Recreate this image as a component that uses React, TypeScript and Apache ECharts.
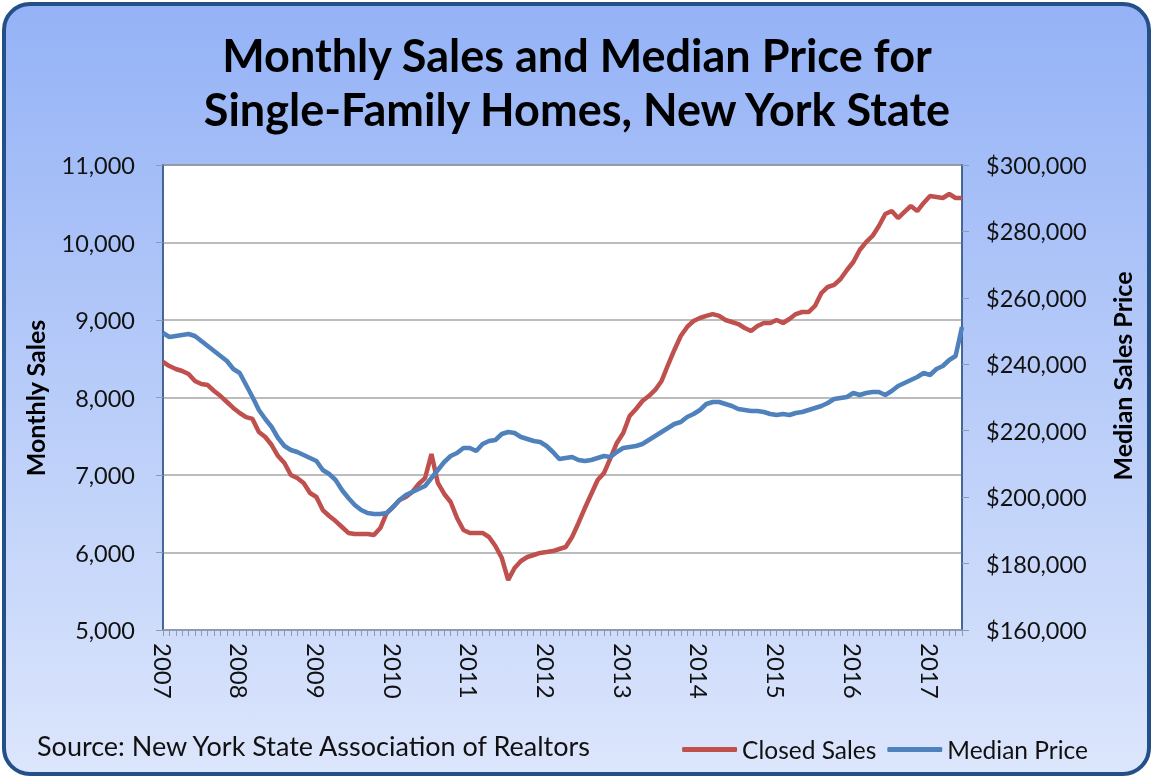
import React, { useEffect, useRef } from "react";
import * as echarts from "echarts";

const startYear = 2007;
const monthCount = 126;
const months: string[] = [];
for (let i = 0; i < monthCount; i++) {
  const y = startYear + Math.floor(i / 12);
  const m = (i % 12) + 1;
  months.push(`${y}-${m < 10 ? "0" + m : m}`);
}

const closedSales: number[] = [
  8458, 8406, 8368, 8342, 8303, 8213, 8174, 8161, 8084, 8019, 7942, 7865,
  7800, 7748, 7723, 7555, 7490, 7387, 7245, 7155, 7000, 6961, 6897, 6768,
  6716, 6548, 6471, 6406, 6329, 6252, 6239, 6239, 6239, 6226, 6316, 6510,
  6587, 6677, 6716, 6781, 6884, 6961, 7270, 6897, 6755, 6652, 6445, 6290,
  6252, 6252, 6252, 6200, 6084, 5930, 5645, 5800, 5890, 5942, 5968, 5994,
  6006, 6019, 6045, 6071, 6200, 6381, 6574, 6755, 6935, 7026, 7219, 7413,
  7542, 7761, 7852, 7955, 8019, 8097, 8213, 8419, 8613, 8794, 8910, 8987,
  9026, 9052, 9077, 9052, 9000, 8974, 8948, 8897, 8858, 8923, 8961, 8961,
  9000, 8961, 9013, 9077, 9103, 9103, 9181, 9348, 9426, 9452, 9529, 9645,
  9748, 9903, 10006, 10084, 10213, 10368, 10406, 10316, 10394, 10471, 10406, 10510,
  10600, 10587, 10574, 10626, 10574, 10574,
];

const medianPrice: number[] = [
  249420, 248216, 248517, 248818, 249119, 248517, 247011, 245506, 244000, 242495, 240990, 238581,
  237377, 233764, 230151, 226237, 223527, 221118, 217807, 215398, 214194, 213592, 212689, 211785,
  210882, 208172, 206968, 205161, 202150, 199742, 197634, 196129, 195226, 194925, 194925, 195226,
  197032, 199140, 200645, 201548, 202451, 203355, 205763, 208172, 210581, 212387, 213290, 214796,
  214796, 213893, 215999, 216903, 217204, 219010, 219612, 219311, 218107, 217505, 216903, 216602,
  215398, 213592, 211484, 211785, 212086, 211183, 210882, 211183, 211785, 212387, 212086, 213592,
  214796, 215097, 215398, 215999, 217204, 218408, 219612, 220817, 222021, 222623, 224129, 225032,
  226237, 228043, 228645, 228645, 228043, 227441, 226538, 226237, 225936, 225936, 225635, 225032,
  224731, 225032, 224731, 225333, 225635, 226237, 226839, 227441, 228344, 229549, 229850, 230151,
  231355, 230753, 231355, 231656, 231656, 230753, 231957, 233463, 234366, 235269, 236172, 237377,
  236774, 238581, 239484, 241290, 242495, 251226,
];

const titleLines = ["Monthly Sales and Median Price for", "Single-Family Homes, New York State"];
const leftAxisName = "Monthly Sales";
const rightAxisName = "Median Sales Price";
const sourceText = "Source: New York State Association of Realtors";
const seriesNames = ["Closed Sales", "Median Price"];

const FONT = "Lato, 'Open Sans', sans-serif";

export default function App() {
  const ref = useRef<HTMLDivElement>(null);
  useEffect(() => {
    if (!ref.current) return;
    const chart = echarts.init(ref.current, undefined, { renderer: "svg" });
    const fmt = (v: number) => v.toLocaleString("en-US");
    chart.setOption({
      animation: false,
      textStyle: { fontFamily: FONT },
      graphic: [
        {
          type: "rect",
          z: -100,
          shape: { x: 4, y: 4, width: 1145, height: 770, r: 26 },
          style: {
            fill: new echarts.graphic.LinearGradient(0, 0, 0, 1, [
              { offset: 0, color: "#94B2F6" },
              { offset: 1, color: "#DCE6FC" },
            ]),
            stroke: "#24508A",
            lineWidth: 4,
          },
        },
        {
          type: "text",
          x: 577,
          y: 55,
          style: {
            text: titleLines[0],
            font: `bold 45px ${FONT}`,
            fill: "#000",
            align: "center",
            verticalAlign: "middle",
          },
        },
        {
          type: "text",
          x: 577,
          y: 109,
          style: {
            text: titleLines[1],
            font: `bold 45px ${FONT}`,
            fill: "#000",
            align: "center",
            verticalAlign: "middle",
          },
        },
        {
          type: "text",
          x: 35,
          y: 398,
          rotation: Math.PI / 2,
          style: {
            text: leftAxisName,
            font: `bold 25px ${FONT}`,
            fill: "#000",
            align: "center",
            verticalAlign: "middle",
          },
        },
        {
          type: "text",
          x: 1122,
          y: 376,
          rotation: Math.PI / 2,
          style: {
            text: rightAxisName,
            font: `bold 25px ${FONT}`,
            fill: "#000",
            align: "center",
            verticalAlign: "middle",
          },
        },
        {
          type: "text",
          x: 37,
          y: 745,
          style: {
            text: sourceText,
            font: `27px ${FONT}`,
            fill: "#111",
            align: "left",
            verticalAlign: "middle",
          },
        },
      ],
      legend: {
        right: 60,
        top: 732,
        itemWidth: 55,
        itemHeight: 5,
        itemGap: 11,
        icon: "roundRect",
        textStyle: { fontSize: 24.5, color: "#111", fontFamily: FONT },
        data: seriesNames,
      },
      grid: {
        left: 163,
        right: 191,
        top: 165,
        bottom: 148,
        show: true,
        backgroundColor: "#fff",
        borderColor: "#3C5F8E",
        borderWidth: 1.5,
        containLabel: false,
      },
      xAxis: {
        type: "category",
        data: months,
        boundaryGap: false,
        axisLine: { lineStyle: { color: "#8C9BB0", width: 1.5 } },
        axisTick: {
          show: true,
          interval: 0,
          length: 6,
          lineStyle: { color: "#8C9BB0" },
        },
        axisLabel: {
          interval: (i: number) => i % 12 === 0,
          formatter: (v: string) => v.slice(0, 4),
          rotate: -90,
          margin: 13,
          fontSize: 24,
          color: "#111",
          fontFamily: FONT,
        },
        splitLine: { show: false },
      },
      yAxis: [
        {
          type: "value",
          min: 5000,
          max: 11000,
          interval: 1000,
          axisLine: { show: true, lineStyle: { color: "#3C5F8E", width: 1.5 } },
          axisTick: { show: true, length: 7, lineStyle: { color: "#8C9BB0" } },
          axisLabel: {
            formatter: fmt,
            fontSize: 23.5,
            margin: 28,
            color: "#111",
            fontFamily: FONT,
          },
          splitLine: { show: true, lineStyle: { color: "#A6A6A6", width: 1.5 } },
        },
        {
          type: "value",
          position: "right",
          min: 160000,
          max: 300000,
          interval: 20000,
          axisLine: { show: true, lineStyle: { color: "#3C5F8E", width: 1.5 } },
          axisTick: { show: true, length: 7, lineStyle: { color: "#8C9BB0" } },
          axisLabel: {
            formatter: (v: number) => "$" + fmt(v),
            fontSize: 23.5,
            margin: 24,
            color: "#111",
            fontFamily: FONT,
          },
          splitLine: { show: false },
        },
      ],
      series: [
        {
          name: seriesNames[0],
          type: "line",
          data: closedSales,
          yAxisIndex: 0,
          symbol: "none",
          itemStyle: { color: "#C0504D" },
          lineStyle: { color: "#C0504D", width: 4.5 },
        },
        {
          name: seriesNames[1],
          type: "line",
          data: medianPrice,
          yAxisIndex: 1,
          symbol: "none",
          itemStyle: { color: "#4F81BD" },
          lineStyle: { color: "#4F81BD", width: 4.5 },
        },
      ],
    });
    return () => chart.dispose();
  }, []);
  return (
    <div
      ref={ref}
      style={{ position: "fixed", left: 0, top: 0, width: 1153, height: 778 }}
    />
  );
}
